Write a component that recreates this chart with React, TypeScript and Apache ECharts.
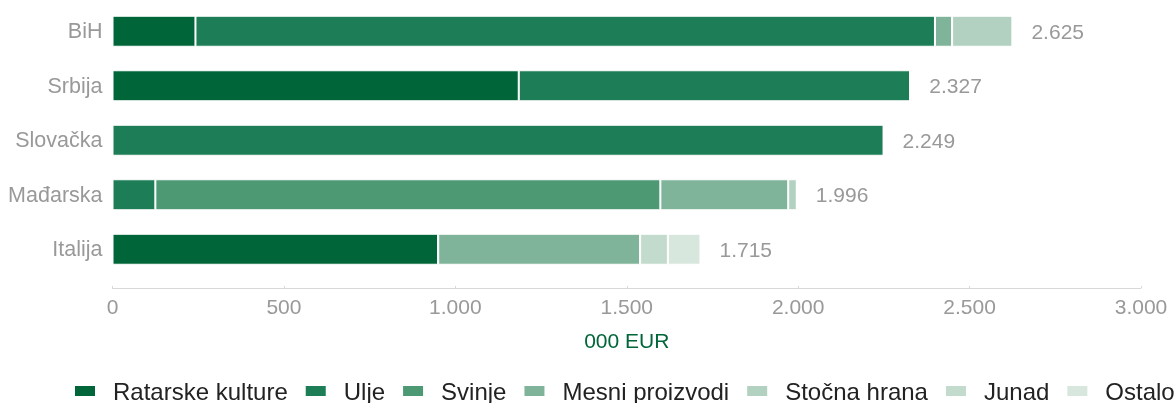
import React, { useEffect, useRef } from "react";
import * as echarts from "echarts";

const categories = ["BiH", "Srbija", "Slovačka", "Mađarska", "Italija"];
const seriesNames = ["Ratarske kulture", "Ulje", "Svinje", "Mesni proizvodi", "Stočna hrana", "Junad", "Ostalo"];
const ratarske = [242, 1185, 0, 0, 950];
const ulje = [2157, 1142, 2249, 125, 0];
const svinje = [0, 0, 0, 1473, 0];
const mesni = [50, 0, 0, 373, 589];
const stocna = [176, 0, 0, 25, 0];
const junad = [0, 0, 0, 0, 81];
const ostalo = [0, 0, 0, 0, 95];
const totals = [2625, 2327, 2249, 1996, 1715];
const xTicks = [0, 500, 1000, 1500, 2000, 2500, 3000];
const colors = ["#00663a", "#1c7d56", "#4d9973", "#80b49a", "#b3d1c1", "#c2dbcc", "#d8e7de"];

const FONT = '"Liberation Sans", Arial, sans-serif';
const fmt = (v: number) => String(v).replace(/\B(?=(\d{3})+(?!\d))/g, ".");

export default function App() {
  const ref = useRef<HTMLDivElement>(null);
  useEffect(() => {
    if (!ref.current) return;
    const chart = echarts.init(ref.current, null, { renderer: "svg" });
    const values = [ratarske, ulje, svinje, mesni, stocna, junad, ostalo];
    const series: any[] = values.map((d, i) => ({
      name: seriesNames[i],
      type: "bar",
      stack: "s",
      barWidth: 31,
      data: d,
      itemStyle: { color: colors[i], borderColor: "#ffffff", borderWidth: 1 },
    }));
    series.push({
      name: "total",
      type: "bar",
      stack: "s",
      barWidth: 31,
      data: totals.map(() => 0),
      itemStyle: { color: "transparent", borderWidth: 0 },
      label: {
        show: true,
        position: "right",
        distance: 19,
        color: "#999999",
        fontSize: 21,
        fontFamily: FONT,
        formatter: (p: any) => fmt(totals[p.dataIndex]),
      },
    });
    chart.setOption({
      animation: false,
      color: colors,
      textStyle: { fontFamily: FONT },
      grid: { left: 112.5, right: 35, top: 4, height: 272.5, containLabel: false },
      xAxis: {
        type: "value",
        min: xTicks[0],
        max: xTicks[xTicks.length - 1],
        interval: 500,
        offset: 11.5,
        name: "000 EUR",
        nameLocation: "middle",
        nameGap: 42,
        nameTextStyle: { color: "#00663a", fontSize: 21, fontFamily: FONT },
        axisLine: { show: true, lineStyle: { color: "#d8d8d8", width: 1 } },
        axisTick: { show: true, inside: true, length: 2, lineStyle: { color: "#d8d8d8" } },
        splitLine: { show: false },
        axisLabel: {
          color: "#999999",
          fontSize: 21,
          fontFamily: FONT,
          margin: 8,
          formatter: (v: number) => fmt(v),
        },
      },
      yAxis: {
        type: "category",
        data: categories,
        inverse: true,
        axisLine: { show: false },
        axisTick: { show: false },
        axisLabel: { color: "#999999", fontSize: 21.5, fontFamily: FONT, margin: 10 },
      },
      legend: {
        data: seriesNames,
        left: 73,
        top: 379,
        padding: 0,
        width: 1500,
        itemWidth: 22,
        itemHeight: 12,
        itemGap: 16,
        icon: "rect",
        textStyle: {
          color: "#222222",
          fontSize: 24,
          lineHeight: 24,
          fontFamily: FONT,
          padding: [0, 0, 0, 12],
        },
      },
      series,
    });
    return () => chart.dispose();
  }, []);
  return (
    <div
      ref={ref}
      style={{ position: "fixed", left: 0, top: 0, width: 1176, height: 403 }}
    />
  );
}
